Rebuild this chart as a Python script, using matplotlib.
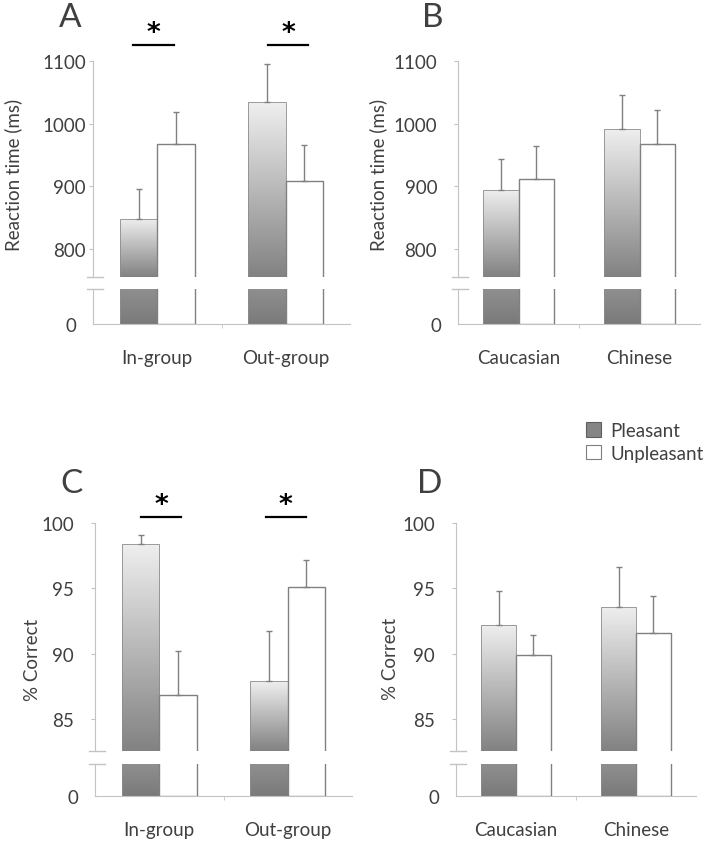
import numpy as np
import matplotlib.pyplot as plt
from matplotlib.colors import LinearSegmentedColormap
from matplotlib.patches import Patch

plt.rcParams['font.family'] = ['Lato', 'DejaVu Sans']

# reaction times (ms), panels A and B
group_labels = ['In-group', 'Out-group']
rt_group_pleasant = [848, 1034]
rt_group_pleasant_err = [48, 61]
rt_group_unpleasant = [968, 909]
rt_group_unpleasant_err = [51, 57]

race_labels = ['Caucasian', 'Chinese']
rt_race_pleasant = [894, 992]
rt_race_pleasant_err = [50, 54]
rt_race_unpleasant = [911, 968]
rt_race_unpleasant_err = [54, 53]

# accuracy (% correct), panels C and D
acc_group_pleasant = [98.4, 87.9]
acc_group_pleasant_err = [0.7, 3.8]
acc_group_unpleasant = [86.8, 95.1]
acc_group_unpleasant_err = [3.4, 2.1]

acc_race_pleasant = [92.2, 93.6]
acc_race_pleasant_err = [2.6, 3.0]
acc_race_unpleasant = [89.9, 91.6]
acc_race_unpleasant_err = [1.5, 2.8]

W, H = 706, 845
fig = plt.figure(figsize=(W / 100, H / 100), dpi=100)

AXIS_C = '#c3c3c3'
TEXT_C = '#404040'
EDGE_C = '#808080'
BAR_W = 0.29
TICK_FS = 13.5

upper_cmap = LinearSegmentedColormap.from_list('up', ['#828282', '#efefef'])
lower_cmap = LinearSegmentedColormap.from_list('lo', ['#7a7a7a', '#8f8f8f'])
grad = np.linspace(0, 1, 256).reshape(-1, 1)


def px_rect(l, r, t, b):
    return [l / W, 1 - b / H, (r - l) / W, (b - t) / H]


def bars(ax, pleasant, unpleasant, cmap, lo, hi):
    x = np.arange(len(pleasant))
    pb = ax.bar(x - BAR_W / 2, pleasant, BAR_W, facecolor='none',
                edgecolor='#8c8c8c', linewidth=0.6, zorder=3)
    for rect, v in zip(pb, pleasant):
        x0 = rect.get_x()
        im = ax.imshow(grad, extent=[x0, x0 + BAR_W, lo, min(v, hi)],
                       origin='lower', cmap=cmap, vmin=0, vmax=1,
                       aspect='auto', zorder=2)
        im.set_clip_path(rect)
    ax.bar(x + BAR_W / 2, unpleasant, BAR_W, facecolor='white',
           edgecolor=EDGE_C, linewidth=1, zorder=3)
    return x


def panel(up_px, lo_px, cats, pleasant, p_err, unpleasant, u_err,
          ylim, yticks, stub, ypad, lopad, ylabel, ylab_xy, letter, letter_xy,
          sig=None):
    ax = fig.add_axes(px_rect(*up_px))
    x = bars(ax, pleasant, unpleasant, upper_cmap, ylim[0], ylim[1])
    ax.errorbar(x - BAR_W / 2, pleasant, yerr=[np.zeros(2), p_err], fmt='none',
                ecolor=EDGE_C, elinewidth=1, capsize=2.5, capthick=1, zorder=4)
    ax.errorbar(x + BAR_W / 2, unpleasant, yerr=[np.zeros(2), u_err], fmt='none',
                ecolor=EDGE_C, elinewidth=1, capsize=2.5, capthick=1, zorder=4)
    ax.set_xlim(-0.5, 1.5)
    ax.set_ylim(*ylim)
    ax.set_yticks(yticks)
    ax.set_xticks([])
    for s in ['top', 'right', 'bottom']:
        ax.spines[s].set_visible(False)
    ax.spines['left'].set_color(AXIS_C)
    ax.tick_params(axis='y', length=3, color=AXIS_C, labelcolor=TEXT_C,
                   labelsize=TICK_FS, pad=ypad)
    ax.plot([-0.024, 0.04], [0, 0], transform=ax.transAxes, color=AXIS_C,
            lw=1, clip_on=False)

    if sig:
        for (xa, xb), xs, yl, ys in sig:
            ax.plot([xa, xb], [yl, yl], color='black', lw=1.6, clip_on=False)
            ax.text(xs, ys, '*', ha='center', va='baseline', fontsize=19,
                    fontweight='bold', family='DejaVu Sans', color='black',
                    clip_on=False)

    axl = fig.add_axes(px_rect(*lo_px))
    bars(axl, pleasant, unpleasant, lower_cmap, 0, stub)
    axl.set_xlim(-0.5, 1.5)
    axl.set_ylim(0, stub)
    axl.set_yticks([0])
    axl.set_xticks(x, cats)
    axl.set_xticks([0.5], minor=True)
    for s in ['top', 'right']:
        axl.spines[s].set_visible(False)
    axl.spines['left'].set_color(AXIS_C)
    axl.spines['bottom'].set_color(AXIS_C)
    axl.tick_params(axis='y', length=0, labelcolor=TEXT_C, labelsize=TICK_FS,
                    pad=lopad)
    axl.tick_params(axis='x', which='major', length=0, labelcolor=TEXT_C,
                    labelsize=TICK_FS, pad=18)
    axl.tick_params(axis='x', which='minor', length=3, color=AXIS_C)
    axl.plot([-0.024, 0.04], [1, 1], transform=axl.transAxes, color=AXIS_C,
             lw=1, clip_on=False)

    fig.text(ylab_xy[0] / W, 1 - ylab_xy[1] / H, ylabel, rotation=90,
             ha='center', va='center', fontsize=13.5, color=TEXT_C)
    fig.text(letter_xy[0] / W, 1 - letter_xy[1] / H, letter, ha='center',
             va='center', fontsize=24, color=TEXT_C)


panel((93, 350, 62, 278), (93, 350, 290, 325), group_labels,
      rt_group_pleasant, rt_group_pleasant_err,
      rt_group_unpleasant, rt_group_unpleasant_err,
      (755, 1100), [800, 900, 1000, 1100], 50, 2, 12,
      'Reaction time (ms)', (13, 175), 'A', (70, 18),
      sig=[((-0.19, 0.13), -0.03, 1126, 1133),
           ((0.86, 1.17), 1.02, 1126, 1133)])

panel((458, 700, 62, 278), (458, 700, 290, 325), race_labels,
      rt_race_pleasant, rt_race_pleasant_err,
      rt_race_unpleasant, rt_race_unpleasant_err,
      (755, 1100), [800, 900, 1000, 1100], 50, 12, 12,
      'Reaction time (ms)', (378, 175), 'B', (433, 18))

panel((95, 352, 524, 752), (95, 352, 765, 797), group_labels,
      acc_group_pleasant, acc_group_pleasant_err,
      acc_group_unpleasant, acc_group_unpleasant_err,
      (82.55, 100), [85, 90, 95, 100], 5, 12, 12,
      '% Correct', (32, 660), 'C', (72, 484),
      sig=[((-0.14, 0.17), 0.02, 100.48, 100.85),
           ((0.83, 1.14), 0.98, 100.48, 100.85)])

panel((456, 696, 524, 752), (456, 696, 765, 797), race_labels,
      acc_race_pleasant, acc_race_pleasant_err,
      acc_race_unpleasant, acc_race_unpleasant_err,
      (82.55, 100), [85, 90, 95, 100], 5, 12, 12,
      '% Correct', (390, 659), 'D', (430, 484))

handles = [Patch(facecolor='#858585', edgecolor='#5f5f5f', linewidth=0.8),
           Patch(facecolor='white', edgecolor='#7f7f7f', linewidth=0.8)]
fig.legend(handles, ['Pleasant', 'Unpleasant'], loc='upper left',
           bbox_to_anchor=(573 / W, 1 - 410 / H), frameon=False, fontsize=13.5,
           handlelength=0.8, handleheight=0.8, handletextpad=0.5,
           labelspacing=0.3, labelcolor=TEXT_C, borderpad=0.2)

fig.savefig('out.png', dpi=100)
